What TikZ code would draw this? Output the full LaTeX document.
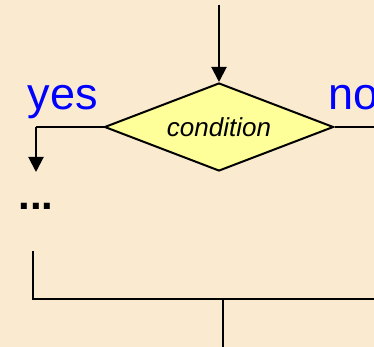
\documentclass[tikz,border=0pt]{standalone}
\usepackage{fontspec}
\setmainfont{Liberation Sans}
\usetikzlibrary{shapes.geometric,arrows.meta}
\definecolor{paper}{RGB}{250,235,208}
\definecolor{decfill}{RGB}{255,255,153}
\definecolor{labelblue}{RGB}{0,0,255}
\begin{document}
\begin{tikzpicture}[x=1pt,y=-1pt,
  flow/.style={line width=2pt},
  arr/.style={flow,-{Triangle[width=15pt,length=15pt]}},
  decision/.style={diamond,draw,line width=2pt,fill=decfill,aspect=2.6,
    minimum width=229pt,minimum height=88pt,inner sep=0pt,
    font=\fontsize{26}{30}\selectfont\itshape},
  branch/.style={text=labelblue,font=\fontsize{45}{50}\selectfont,inner sep=0pt}]
  \fill[paper] (0,0) rectangle (374,347);
  \useasboundingbox (0,0) rectangle (374,347);
  % incoming flow and the decision
  \coordinate (in) at (219,5);
  \node[decision] (cond) at (219,127) {condition};
  \draw[arr] (in) -- (cond.north);
  % branch labels
  \node[branch,anchor=base] (yes) at (63,110) {yes};
  \node[branch,anchor=base west] (no) at (328,110) {no};
  % yes branch
  \coordinate (ycorner) at (36,127);
  \coordinate (ytip) at (36,172);
  \draw[flow] (cond.west) -- (ycorner);
  \draw[arr] (ycorner) -- (ytip);
  \node[font=\fontsize{42}{44}\selectfont\bfseries,anchor=base,inner sep=0pt] (dots) at (36,209) {...};
  % no branch
  \coordinate (nend) at (374,127);
  \draw[flow] (cond.east) -- (nend);
  % merge
  \coordinate (ltop) at (33,251);
  \coordinate (lcorner) at (33,299);
  \coordinate (rend) at (374,299);
  \coordinate (mid) at (223,299);
  \coordinate (out) at (223,347);
  \draw[flow] (ltop) -- (lcorner) -- (rend);
  \draw[flow] (mid) -- (out);
\end{tikzpicture}
\end{document}
